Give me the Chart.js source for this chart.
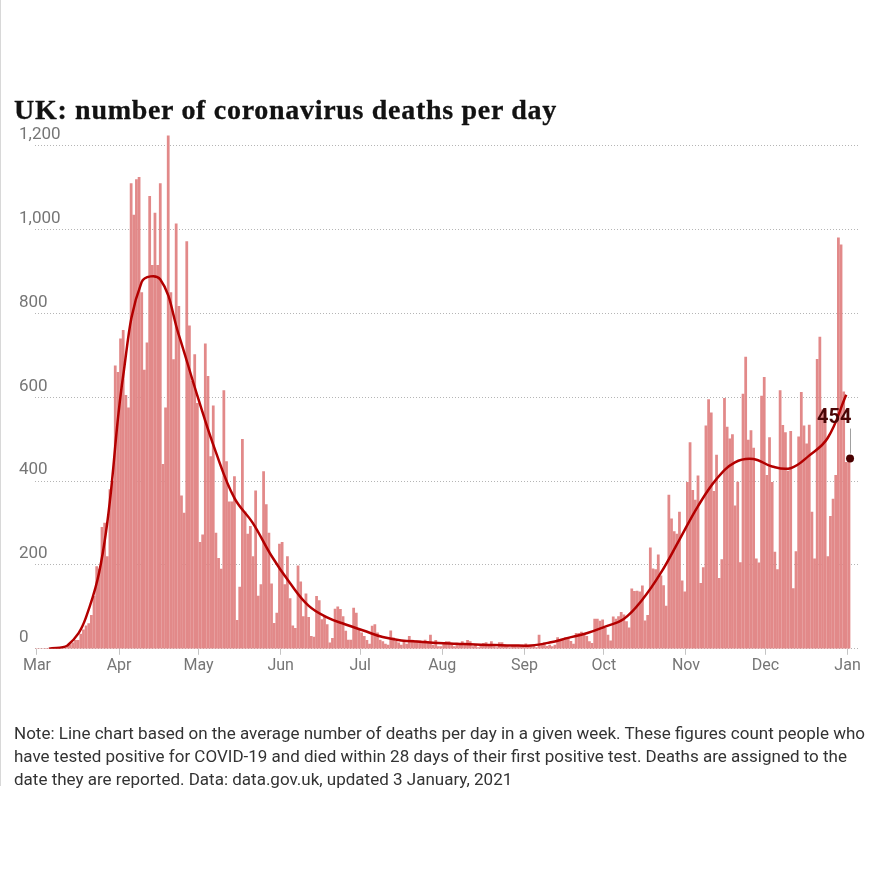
<!DOCTYPE html>
<html>
<head>
<meta charset="utf-8">
<title>UK: number of coronavirus deaths per day</title>
<script src="https://cdn.jsdelivr.net/npm/chart.js@4.4.0/dist/chart.umd.min.js"></script>
<style>
    html, body { margin: 0; padding: 0; background: #fff; }
    #cadre { position: relative; width: 874px; height: 874px; overflow: hidden; }
    #filet { position: absolute; left: 0; top: 0; width: 1px; height: 786px; background: #d8d8d8; }
    #graphique { position: absolute; left: 0; top: 0; }
    #titre {
        position: absolute; left: 14px; top: 94px; margin: 0;
        font: bold 28px/32px "Liberation Serif", serif; letter-spacing: 0.7px;
        -webkit-text-stroke: 0.3px #121212; color: #121212; white-space: nowrap;
    }
    #note {
        position: absolute; left: 14px; top: 722px; margin: 0;
        font: 17px/23px Roboto, sans-serif; color: #333; white-space: nowrap;
    }
</style>
</head>
<body>
<div id="cadre">
    <div id="filet"></div>
    <canvas id="graphique" width="874" height="874"></canvas>
    <h1 id="titre">UK: number of coronavirus deaths per day</h1>
    <p id="note">Note: Line chart based on the average number of deaths per day in a given week. These figures count people who<br>have tested positive for COVID-19 and died within 28 days of their first positive test. Deaths are assigned to the<br>date they are reported. Data: data.gov.uk, updated 3 January, 2021</p>
</div>
<script>
// Décès par jour (date de publication), du 1er mars 2020 au 3 janvier 2021
const decesMars = [0, 0, 0, 0, 0, 1, 0, 1, 1, 1, 3, 2, 3, 8, 10, 14, 20, 20, 35, 45, 55, 60, 80, 125, 196, 190, 290, 300, 220, 380, 400];
const decesAvril = [675, 660, 740, 760, 605, 575, 1110, 1035, 1120, 1125, 850, 665, 730, 1080, 915, 1040, 915, 1110, 440, 575, 1224, 850, 690, 1014, 817, 365, 324, 972, 771, 638];
const decesMai = [702, 586, 254, 272, 728, 650, 459, 580, 276, 216, 190, 616, 447, 351, 351, 411, 68, 147, 500, 327, 274, 292, 220, 377, 126, 153, 423, 344, 276, 155, 61];
const decesJuin = [85, 250, 254, 153, 220, 120, 55, 49, 198, 160, 77, 131, 75, 30, 28, 125, 115, 70, 77, 58, 14, 25, 95, 100, 94, 77, 42, 21, 21, 97];
const decesJuillet = [85, 46, 38, 30, 20, 11, 54, 58, 38, 21, 17, 11, 9, 43, 26, 18, 14, 9, 17, 11, 30, 21, 17, 19, 19, 15, 21, 18, 33, 9, 20];
const decesAout = [5, 5, 15, 17, 17, 12, 5, 9, 12, 17, 13, 20, 17, 5, 9, 3, 9, 13, 15, 9, 17, 5, 3, 15, 15, 9, 5, 3, 7, 7, 5];
const decesSeptembre = [5, 9, 12, 7, 5, 7, 3, 33, 9, 14, 6, 9, 5, 9, 27, 20, 21, 27, 27, 18, 11, 37, 37, 40, 34, 30, 17, 13, 71, 71];
const decesOctobre = [66, 69, 49, 33, 19, 76, 71, 77, 87, 81, 65, 50, 143, 137, 138, 136, 150, 67, 80, 241, 191, 189, 224, 174, 151, 102, 367, 310, 280, 274, 326];
const decesNovembre = [162, 136, 397, 492, 378, 355, 413, 156, 194, 532, 595, 563, 376, 462, 168, 213, 598, 529, 501, 511, 341, 398, 206, 608, 696, 498, 521, 479, 215, 205];
const decesDecembre = [603, 648, 414, 504, 397, 231, 189, 616, 533, 516, 424, 519, 144, 232, 506, 612, 532, 489, 534, 326, 215, 691, 744, 570, 570, 220, 316, 357, 414, 981, 964];
const decesJanvier = [613, 445, 454];

const decesJournaliers = [].concat(decesMars, decesAvril, decesMai, decesJuin, decesJuillet,
    decesAout, decesSeptembre, decesOctobre, decesNovembre, decesDecembre, decesJanvier);

// Moyenne hebdomadaire (semaines du lundi au dimanche)
const moyenneHebdo = [0, 8, 75, 255, 650, 875, 882, 750, 605, 470, 360, 300, 222, 157, 103, 75, 58, 43, 28, 20, 17, 14,
    12, 10, 9, 8, 8, 15, 26, 37, 53, 71, 117, 181, 260, 340, 405, 445, 453, 435, 431, 461, 503, 606];
const milieuPremiereSemaine = 4.5; // jeudi midi de la semaine du 2 au 8 mars, en jours depuis le 1er mars

// Axes
const debutsMois = [0, 31, 61, 92, 122, 153, 184, 214, 245, 275, 306];
const nomsMois = ['Mar', 'Apr', 'May', 'Jun', 'Jul', 'Aug', 'Sep', 'Oct', 'Nov', 'Dec', 'Jan'];
const graduationsY = [0, 200, 400, 600, 800, 1000, 1200];

const dernierJour = decesJournaliers.length - 1;
const derniereValeur = decesJournaliers[dernierJour];

// Étiquette de la dernière valeur
const etiquetteFin = {
    id: 'etiquetteFin',
    afterDatasetsDraw(chart) {
        const pt = chart.getDatasetMeta(0).data[0];
        const ctx = chart.ctx;
        const x = Math.round(pt.x) + 0.5;
        ctx.save();
        ctx.strokeStyle = '#a0a0a0';
        ctx.lineWidth = 1;
        ctx.beginPath();
        ctx.moveTo(x, pt.y - 30);
        ctx.lineTo(x, pt.y - 5);
        ctx.stroke();
        ctx.font = 'bold 20px Roboto, sans-serif';
        ctx.fillStyle = '#4a0606';
        ctx.textAlign = 'right';
        ctx.textBaseline = 'alphabetic';
        ctx.fillText(String(derniereValeur), pt.x + 1.5, pt.y - 36);
        ctx.restore();
    }
};

Chart.defaults.font.family = 'Roboto, sans-serif';

const ctx = document.getElementById('graphique').getContext('2d');
new Chart(ctx, {
    data: {
        datasets: [
            {
                type: 'scatter',
                data: [{ x: dernierJour, y: derniereValeur }],
                xAxisID: 'xb',
                pointRadius: 4,
                pointBackgroundColor: '#4a0000',
                pointBorderWidth: 0,
                order: 0
            },
            {
                type: 'line',
                data: moyenneHebdo.map((v, k) => ({ x: milieuPremiereSemaine + 7 * k, y: v })),
                xAxisID: 'x',
                borderColor: '#b30000',
                borderWidth: 2.5,
                pointRadius: 0,
                tension: 0.4,
                order: 1
            },
            {
                type: 'bar',
                data: decesJournaliers.map((v, i) => ({ x: i, y: v })),
                xAxisID: 'xb',
                backgroundColor: '#e28989',
                borderWidth: 0,
                barThickness: 2.1,
                order: 2
            }
        ]
    },
    options: {
        responsive: false,
        animation: false,
        events: [],
        layout: { padding: { left: 35, right: 14, top: 125, bottom: 196 } },
        plugins: { legend: { display: false }, tooltip: { enabled: false } },
        scales: {
            x: {
                type: 'linear',
                position: 'bottom',
                offset: false,
                min: -0.75,
                max: 310.7,
                afterBuildTicks: (s) => { s.ticks = debutsMois.map(v => ({ value: v })); },
                ticks: {
                    autoSkip: false,
                    maxRotation: 0,
                    padding: 2,
                    color: '#767676',
                    font: { size: 16 },
                    callback: (v) => nomsMois[debutsMois.indexOf(v)]
                },
                grid: { drawOnChartArea: false, tickLength: 6, color: '#c4c4c4' },
                border: { display: false }
            },
            // axe caché des barres : décalé d'environ un jour comme dans l'original
            xb: {
                type: 'linear',
                display: false,
                offset: false,
                grid: { offset: false },
                min: 0.31,
                max: 311.76
            },
            y: {
                min: 0,
                max: 1250,
                afterBuildTicks: (s) => { s.ticks = graduationsY.map(v => ({ value: v })); },
                afterFit: (s) => { s.width = 0; },
                ticks: {
                    mirror: true,
                    padding: -16,
                    labelOffset: -11,
                    color: '#767676',
                    font: { size: 17 },
                    callback: (v) => v.toLocaleString('en-GB')
                },
                grid: { color: '#b5b5b5', drawTicks: false },
                border: { display: false, dash: [1, 2] }
            }
        }
    },
    plugins: [etiquetteFin]
});
</script>
</body>
</html>
